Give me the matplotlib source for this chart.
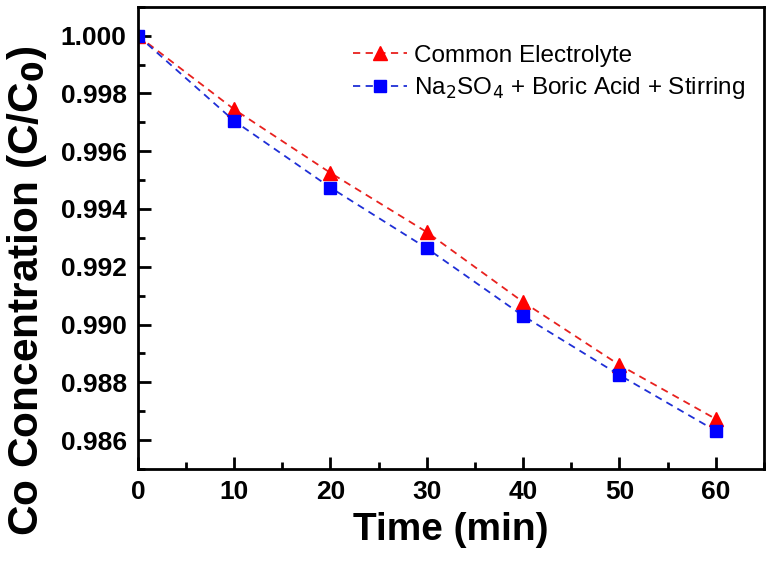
import numpy as np
import matplotlib.pyplot as plt
from matplotlib.ticker import MultipleLocator, FormatStrFormatter

plt.rcParams['font.family'] = ['Liberation Sans', 'DejaVu Sans']

# time points and normalised Co concentration
time = [0, 10, 20, 30, 40, 50, 60]
common = [1.0000, 0.99745, 0.99525, 0.99320, 0.99078, 0.98860, 0.98673]
stirring = [1.0000, 0.99705, 0.99474, 0.99264, 0.99030, 0.98825, 0.98632]

fig = plt.figure(figsize=(7.7, 5.67), dpi=100)
ax = fig.add_axes([0.179, 0.173, 0.813, 0.815])

ax.plot(time, common, '--', color='#e8211e', lw=1.3, marker='^', ms=10,
        mfc='#ff0000', mec='#ff0000', dashes=(4, 3), label='Common Electrolyte')
ax.plot(time, stirring, '--', color='#1f2fd6', lw=1.3, marker='s', ms=8,
        mfc='#0000ff', mec='#0000ff', dashes=(4, 3),
        label=r'Na$_2$SO$_4$ + Boric Acid + Stirring')

ax.set_xlim(0, 65)
ax.set_ylim(0.985, 1.001)
ax.xaxis.set_major_locator(MultipleLocator(10))
ax.xaxis.set_minor_locator(MultipleLocator(5))
ax.yaxis.set_major_locator(MultipleLocator(0.002))
ax.yaxis.set_minor_locator(MultipleLocator(0.001))
ax.yaxis.set_major_formatter(FormatStrFormatter('%.3f'))

for s in ax.spines.values():
    s.set_linewidth(2)
ax.tick_params(which='both', direction='in', top=False, right=False, width=2)
ax.tick_params(which='major', length=9, labelsize=19, pad=8)
ax.tick_params(which='minor', length=5)
for lab in ax.get_xticklabels() + ax.get_yticklabels():
    lab.set_fontweight('bold')

ax.set_xlabel('Time (min)', fontsize=28, fontweight='bold', labelpad=6)
ax.set_ylabel(r'Co Concentration (C/C$_\mathbf{0}$)', fontsize=30.5, fontweight='bold')
ax.yaxis.set_label_coords(-0.142, 0.385)

ax.legend(loc='upper right', bbox_to_anchor=(1.005, 0.965), frameon=False,
          fontsize=17.5, handlelength=2.2, handletextpad=0.3, labelspacing=0.35)

fig.savefig('out.png', dpi=100)
